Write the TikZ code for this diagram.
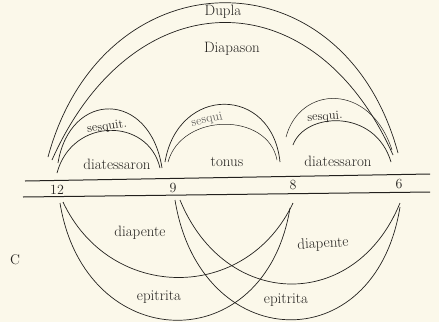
\documentclass[tikz,border=0pt]{standalone}
\usetikzlibrary{calc}
\definecolor{paper}{RGB}{251,248,234}
\definecolor{ink}{RGB}{35,33,30}

\begin{document}
\begin{tikzpicture}[x=1pt,y=-1pt,
  bow/.style={draw=ink,line width=0.7pt},
  rule/.style={draw=ink,line width=1pt},
  lab/.style={text=ink,inner sep=0pt,font=\fontsize{15}{17}\selectfont},
  num/.style={text=ink,inner sep=0pt,font=\fontsize{14}{16}\selectfont},
  ratio/.style={text=ink,inner sep=0pt,font=\fontsize{12.5}{14}\selectfont}]
  \fill[paper] (0,0) rectangle (439,322);
  \useasboundingbox (0,0) rectangle (439,322);

  % the two rules with the numbers
  \coordinate (la) at (25,181); \coordinate (lb) at (430,174);
  \coordinate (lc) at (23,197); \coordinate (ld) at (430,192);
  \draw[rule] (la) -- (lb);
  \draw[rule] (lc) -- (ld);
  \node[num] (n12) at (57,190) {12};
  \node[num] (n9) at (173,188) {9};
  \node[num] (n8) at (293,185) {8};
  \node[num] (n6) at (399,184) {6};

  % upper arcs
  \coordinate (dupL) at (48,157); \coordinate (dupR) at (398,153);
  \coordinate (dpsL) at (52,160); \coordinate (dpsR) at (393,155);
  \draw[bow] (dupL) .. controls (103,-46) and (343,-50) .. (dupR);
  \draw[bow] (dpsL) .. controls (132,-20) and (313,-25) .. (dpsR);
  \node[lab] (dupla) at (223,12) {Dupla};
  \node[lab] (diapason) at (232,49) {Diapason};

  \coordinate (s1a) at (58,163); \coordinate (s1b) at (162,168);
  \coordinate (s1c) at (57,173); \coordinate (s1d) at (160,168);
  \draw[bow] (s1a) .. controls (70,90) and (150,90) .. (s1b);
  \draw[bow] (s1c) .. controls (72,117) and (148,117) .. (s1d);
  \coordinate (s2a) at (165,162); \coordinate (s2b) at (280,162);
  \coordinate (s2c) at (168,162); \coordinate (s2d) at (277,160);
  \draw[bow] (s2a) .. controls (178,85) and (272,85) .. (s2b);
  \draw[bow,line width=0.5pt] (s2c) .. controls (182,112) and (268,112) .. (s2d);
  \coordinate (s3a) at (286,137); \coordinate (s3b) at (392,150);
  \coordinate (s3c) at (293,145); \coordinate (s3d) at (391,162);
  \draw[bow,line width=0.5pt] (s3a) .. controls (300,85) and (370,82) .. (s3b);
  \draw[bow] (s3c) .. controls (305,112) and (375,108) .. (s3d);

  \node[ratio,rotate=8] (sq1) at (107,127) {sesquit.};
  \node[ratio,rotate=12,text=ink!70] (sq2) at (207,120) {sesqui};
  \node[ratio,rotate=4] (sq3) at (325,117) {sesqui.};
  \node[lab] (dia1) at (117,164) {diatessaron};
  \node[lab] (ton) at (227,162) {tonus};
  \node[lab] (dia2) at (338,161) {diatessaron};

  % lower arcs
  \coordinate (a12) at (63,202); \coordinate (a8) at (293,203);
  \coordinate (b12) at (60,203); \coordinate (b8) at (290,208);
  \coordinate (c9) at (180,200); \coordinate (c6) at (400,203);
  \coordinate (d9) at (175,200); \coordinate (d6) at (400,207);
  \draw[bow] (a12) .. controls (110,302) and (246,303) .. (a8);
  \draw[bow] (b12) .. controls (85,356) and (265,361) .. (b8);
  \draw[bow] (c9) .. controls (225,310) and (355,313) .. (c6);
  \draw[bow] (d9) .. controls (200,355) and (375,362) .. (d6);

  \node[lab] (dp1) at (140,233) {diapente};
  \node[lab,rotate=3] (dp2) at (323,244) {diapente};
  \node[lab] (ep1) at (159,297) {epitrita};
  \node[lab] (ep2) at (286,300) {epitrita};
  \node[num] (cc) at (15,260) {C};
\end{tikzpicture}
\end{document}
